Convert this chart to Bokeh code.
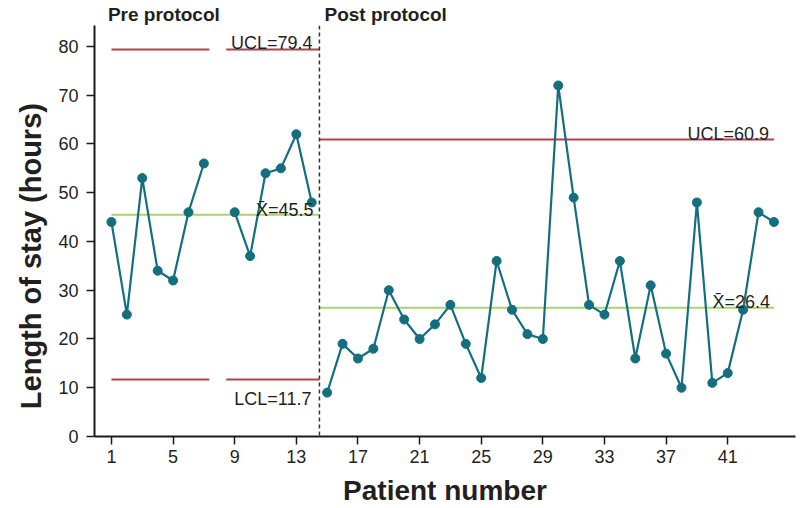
from bokeh.plotting import figure
from bokeh.models import Label, Span, FixedTicker, LinearAxis
from bokeh.embed import file_html
from bokeh.resources import INLINE

# ---- data ----
pre_patient = [1, 2, 3, 4, 5, 6, 7, 8, 9, 10, 11, 12, 13, 14]
pre_los = [44, 25, 53, 34, 32, 46, 56, float("nan"), 46, 37, 54, 55, 62, 48]
post_patient = list(range(15, 45))
post_los = [9, 19, 16, 18, 30, 24, 20, 23, 27, 19, 12, 36, 26, 21, 20,
            72, 49, 27, 25, 36, 16, 31, 17, 10, 48, 11, 13, 26, 46, 44]

pre_ucl, pre_mean, pre_lcl = 79.4, 45.5, 11.7
post_ucl, post_mean = 60.9, 26.4
pre_limit_x0 = [1, 8.45]
pre_limit_x1 = [7.35, 14.5]
phase_change = 14.5
post_end = 44

x_ticks = [1, 5, 9, 13, 17, 21, 25, 29, 33, 37, 41]
y_ticks = [0, 10, 20, 30, 40, 50, 60, 70, 80]
phase_titles = {4.4: "Pre protocol", 18.8: "Post protocol"}
y_title = {37: "Length of stay (hours)"}

TEAL = "#136f7f"
RED = "#b4404a"
GREEN = "#a9d46f"
TXT = "#231f20"
FONT = "Liberation Sans"

p = figure(width=800, height=508, x_range=(-0.1, 45.4), y_range=(0, 84.3),
           output_backend="svg", toolbar_location=None,
           min_border_left=94, min_border_right=5, min_border_top=23, min_border_bottom=71)
p.outline_line_color = None
p.grid.visible = False
p.background_fill_color = "white"
p.border_fill_color = "white"

for ax in (p.xaxis, p.yaxis):
    ax.axis_line_width = 2
    ax.axis_line_color = "#1a1a1a"
    ax.major_tick_line_width = 1.5
    ax.major_tick_line_color = "#1a1a1a"
    ax.major_tick_out = 8
    ax.major_tick_in = 0
    ax.minor_tick_line_color = None
    ax.major_label_text_font = FONT
    ax.major_label_text_font_size = "18px"
    ax.major_label_text_color = TXT
p.xaxis.major_label_standoff = 5
p.yaxis.major_label_standoff = 8
p.xaxis.ticker = FixedTicker(ticks=x_ticks)
p.yaxis.ticker = FixedTicker(ticks=y_ticks)
p.xaxis.axis_label = "Patient number"
p.xaxis.axis_label_text_font = FONT
p.xaxis.axis_label_text_font_size = "28px"
p.xaxis.axis_label_text_font_style = "bold"
p.xaxis.axis_label_text_color = TXT
p.xaxis.axis_label_standoff = 9


def text_axis(ticks, labels, size, orientation="horizontal", standoff=2):
    ax = LinearAxis(ticker=FixedTicker(ticks=ticks), major_label_overrides=labels,
                    axis_line_color=None, major_tick_line_color=None,
                    minor_tick_line_color=None, major_tick_out=0, major_tick_in=0,
                    major_label_standoff=standoff, major_label_orientation=orientation,
                    major_label_text_font=FONT, major_label_text_font_size=size,
                    major_label_text_font_style="bold", major_label_text_color=TXT)
    return ax


p.add_layout(text_axis(list(phase_titles), phase_titles, "19px", standoff=1), "above")
p.add_layout(text_axis(list(y_title), y_title, "29px", orientation="vertical", standoff=8),
             "left")

# limit lines
p.segment(x0=pre_limit_x0, x1=pre_limit_x1, y0=[pre_ucl] * 2, y1=[pre_ucl] * 2,
          line_color=RED, line_width=2)
p.segment(x0=pre_limit_x0, x1=pre_limit_x1, y0=[pre_lcl] * 2, y1=[pre_lcl] * 2,
          line_color=RED, line_width=2)
p.segment(x0=[pre_patient[0]], x1=[phase_change], y0=[pre_mean], y1=[pre_mean],
          line_color=GREEN, line_width=2)
p.segment(x0=[phase_change], x1=[post_end], y0=[post_ucl], y1=[post_ucl],
          line_color=RED, line_width=2)
p.segment(x0=[phase_change], x1=[post_end], y0=[post_mean], y1=[post_mean],
          line_color=GREEN, line_width=2)

p.add_layout(Span(location=phase_change, dimension="height", line_color="#333333",
                  line_width=1.5, line_dash="4 3"))

# data
p.line(pre_patient, pre_los, line_color=TEAL, line_width=2.2)
p.scatter(pre_patient, pre_los, size=9, fill_color=TEAL, line_color=TEAL)
p.line(post_patient, post_los, line_color=TEAL, line_width=2.2)
p.scatter(post_patient, post_los, size=9, fill_color=TEAL, line_color=TEAL)


def lab(x, y, text, xo=0, yo=0):
    p.add_layout(Label(x=x, y=y, text=text, text_align="right", text_baseline="alphabetic",
                       x_offset=xo, y_offset=yo, text_font=FONT, text_font_size="18px",
                       text_color=TXT))


lab(phase_change, pre_ucl, f"UCL={pre_ucl}", xo=-7, yo=6)
lab(phase_change, pre_mean, f"X\u0304={pre_mean}", xo=-6, yo=5)
lab(phase_change, pre_lcl, f"LCL={pre_lcl}", xo=-8, yo=-20)
lab(post_end, post_ucl, f"UCL={post_ucl}", xo=-5, yo=6)
lab(post_end, post_mean, f"X\u0304={post_mean}", xo=-4, yo=6)

open("out.html", "w").write(file_html(p, INLINE))
